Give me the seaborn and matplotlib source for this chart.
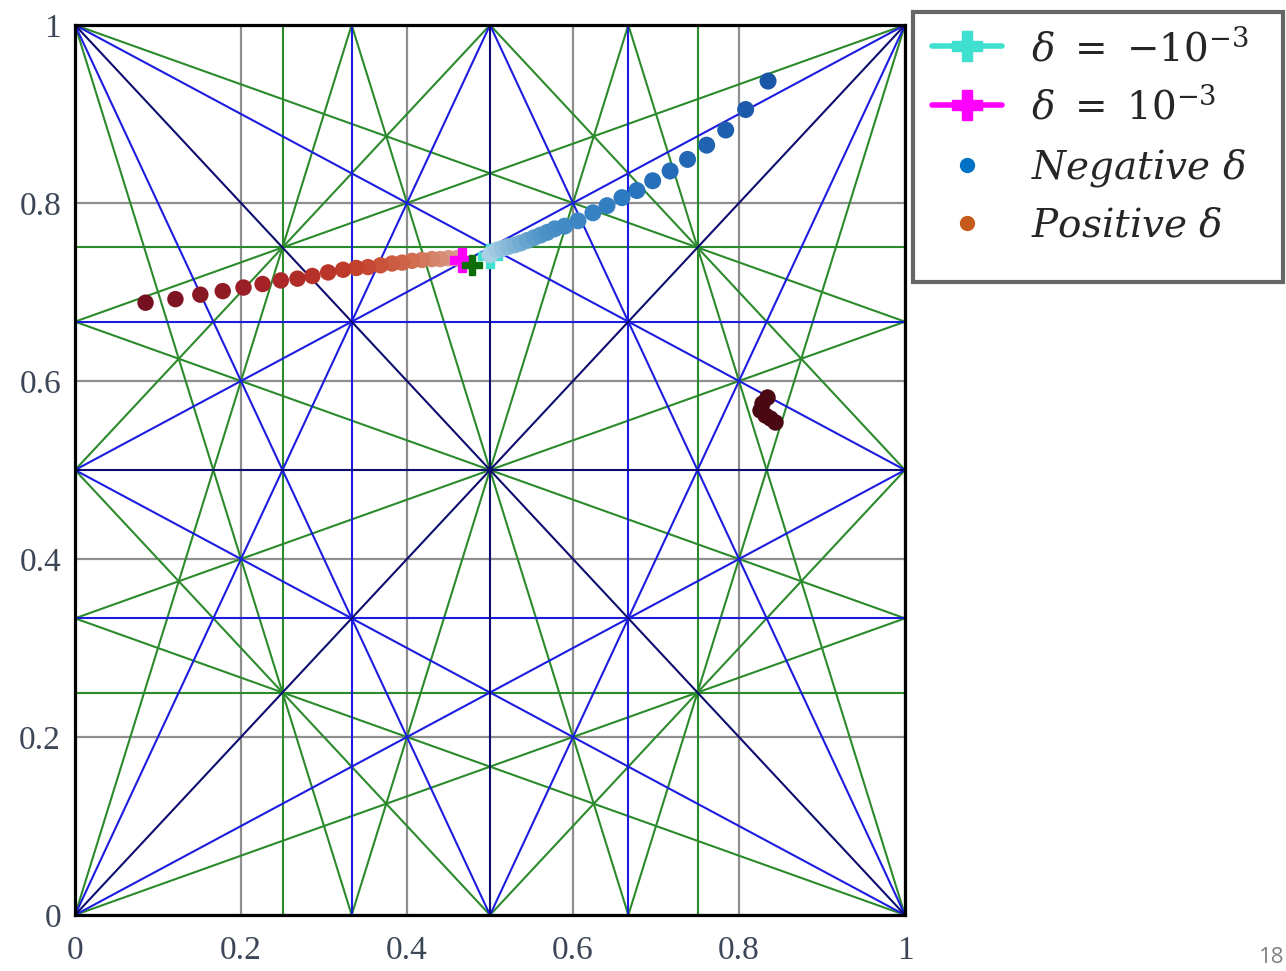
import numpy as np
import pandas as pd
import seaborn as sns
import matplotlib
matplotlib.use("Agg")
import matplotlib.pyplot as plt
from matplotlib.lines import Line2D
from matplotlib.patches import Rectangle
from matplotlib.colors import LinearSegmentedColormap
from math import gcd

# ---------------- data ----------------
tick_values = [0, 0.2, 0.4, 0.6, 0.8, 1]
tick_labels = ["0", "0.2", "0.4", "0.6", "0.8", "1"]

resonance_orders = [2, 3, 4]          # order-1 lines are the square border

neg_x = [0.500, 0.508, 0.515, 0.522, 0.530, 0.537, 0.545, 0.553, 0.561, 0.569,
         0.578, 0.590, 0.606, 0.624, 0.641, 0.659, 0.677, 0.696, 0.717, 0.738,
         0.761, 0.784, 0.808, 0.835]
neg_y = [0.742, 0.747, 0.749, 0.751, 0.753, 0.755, 0.758, 0.761, 0.764, 0.767,
         0.771, 0.774, 0.780, 0.789, 0.797, 0.806, 0.814, 0.825, 0.836, 0.849,
         0.865, 0.882, 0.905, 0.937]

pos_x = [0.460, 0.450, 0.440, 0.430, 0.418, 0.406, 0.394, 0.382, 0.368, 0.353,
         0.339, 0.323, 0.305, 0.286, 0.268, 0.248, 0.226, 0.203, 0.178, 0.151,
         0.121, 0.085]
pos_y = [0.738, 0.738, 0.737, 0.737, 0.736, 0.735, 0.733, 0.732, 0.730, 0.728,
         0.727, 0.725, 0.722, 0.718, 0.715, 0.713, 0.709, 0.705, 0.701, 0.697,
         0.692, 0.688]

cluster_x = [0.8273, 0.8253, 0.8313, 0.8373, 0.8434, 0.8334]
cluster_y = [0.5749, 0.5674, 0.5618, 0.5584, 0.5543, 0.5824]

cross_neg = (0.500, 0.740)   # delta = -1e-3
cross_pos = (0.466, 0.736)   # delta = +1e-3
cross_mid = (0.478, 0.730)

legend_labels = [r"$\delta\ =\ {-}10^{-3}$", r"$\delta\ =\ 10^{-3}$",
                 r"$Negative\ \delta$", r"$Positive\ \delta$"]

# ---------------- styling ----------------
sns.set_theme(style="white")
plt.rcParams["mathtext.fontset"] = "dejavuserif"
plt.rcParams["font.family"] = ["Liberation Serif", "DejaVu Serif"]

order_colors = {2: "#0d0d70", 3: "#1c1ce0", 4: "#2b8a2b"}

W, H = 1286, 971
fig = plt.figure(figsize=(W / 100, H / 100), dpi=100)
ax = fig.add_axes([75 / W, 56 / H, 830 / W, 890 / H])

# ---------------- resonance lines ----------------
def clip_line(m, n, p):
    pts = []
    if n != 0:
        for x in (0.0, 1.0):
            y = (p - m * x) / n
            if -1e-9 <= y <= 1 + 1e-9:
                pts.append((x, y))
    if m != 0:
        for y in (0.0, 1.0):
            x = (p - n * y) / m
            if -1e-9 <= x <= 1 + 1e-9:
                pts.append((x, y))
    uniq = []
    for q in pts:
        if all(abs(q[0] - u[0]) > 1e-9 or abs(q[1] - u[1]) > 1e-9 for u in uniq):
            uniq.append(q)
    if len(uniq) < 2:
        return None
    uniq.sort()
    return uniq[0], uniq[-1]

rows = []
lid = 0
for N in resonance_orders:
    pairs = set()
    for m in range(0, N + 1):
        n = N - m
        pairs.add((m, n))
        if m > 0 and n > 0:
            pairs.add((m, -n))
    for (m, n) in sorted(pairs):
        vals = [m * x + n * y for x in (0, 1) for y in (0, 1)]
        for p in range(int(np.floor(min(vals))), int(np.ceil(max(vals))) + 1):
            if gcd(gcd(abs(m), abs(n)), abs(p)) != 1:
                continue
            seg = clip_line(m, n, p)
            if seg is None:
                continue
            (x0, y0), (x1, y1) = seg
            if np.hypot(x1 - x0, y1 - y0) < 1e-6:
                continue
            rows.append(dict(x=x0, y=y0, lid=lid, order=N))
            rows.append(dict(x=x1, y=y1, lid=lid, order=N))
            lid += 1
lines_df = pd.DataFrame(rows)

ax.grid(True, color="#8e8e8e", linewidth=1.6)
ax.set_axisbelow(True)

sns.lineplot(data=lines_df, x="x", y="y", units="lid", hue="order",
             hue_order=[4, 3, 2], palette=order_colors, estimator=None,
             sort=False, legend=False, linewidth=1.5, ax=ax, zorder=2)

# ---------------- points ----------------
cmap_neg = LinearSegmentedColormap.from_list("neg", ["#a9d0e4", "#5598c8", "#2a78c0", "#1a56a8"])
cmap_pos = LinearSegmentedColormap.from_list("pos", ["#dca28e", "#d06a4c", "#c03c2a", "#a82428", "#741020"])

ax.plot(*cross_neg, marker="P", markersize=17, color="#40e0d0", linestyle="none", zorder=3)

sns.scatterplot(x=neg_x, y=neg_y, hue=np.arange(len(neg_x)), palette=cmap_neg,
                s=150, linewidth=0, legend=False, ax=ax, zorder=4)
sns.scatterplot(x=pos_x, y=pos_y, hue=np.arange(len(pos_x)), palette=cmap_pos,
                s=140, linewidth=0, legend=False, ax=ax, zorder=4)
sns.scatterplot(x=cluster_x, y=cluster_y, color="#4a0812", s=140, linewidth=0,
                legend=False, ax=ax, zorder=4)

ax.plot(*cross_pos, marker="P", markersize=17, color="#ff00ff", linestyle="none", zorder=5)
ax.plot(*cross_mid, marker="P", markersize=15, color="#0b6e0b", linestyle="none", zorder=6)

# ---------------- axes ----------------
ax.set_xlim(0, 1)
ax.set_ylim(0, 1)
ax.set_xticks(tick_values)
ax.set_yticks(tick_values)
ax.set_xticklabels(tick_labels)
ax.set_yticklabels(tick_labels)
ax.set_xlabel("")
ax.set_ylabel("")
ax.tick_params(axis="both", length=0, labelsize=24, labelcolor="#3b4656")
ax.tick_params(axis="x", pad=15)
ax.tick_params(axis="y", pad=10)
for sp in ax.spines.values():
    sp.set_color("black")
    sp.set_linewidth(2.3)
    sp.set_zorder(10)

# ---------------- legend ----------------
fig.patches.append(Rectangle((913 / W, (H - 282) / H), 370 / W, 270 / H,
                             transform=fig.transFigure, facecolor="white",
                             edgecolor="#666666", linewidth=3, zorder=0))
handles = [
    Line2D([], [], color="#40e0d0", marker="P", markersize=22, linewidth=4),
    Line2D([], [], color="#ff00ff", marker="P", markersize=22, linewidth=4),
    Line2D([], [], color="#0072c6", marker="o", markersize=10, linestyle="none"),
    Line2D([], [], color="#c55a1c", marker="o", markersize=10, linestyle="none"),
]
fig.legend(handles, legend_labels, loc="upper left",
           bbox_to_anchor=(932 / W, (H - 30) / H), frameon=False,
           prop={"size": 28}, handlelength=1.8, handletextpad=0.75,
           labelspacing=0.5, borderpad=0, borderaxespad=0)

fig.text(1284 / W, 3 / H, "18", ha="right", va="bottom", fontsize=16,
         color="#7f7f7f", family=["Open Sans", "DejaVu Sans"])

fig.savefig("out.png", dpi=100)
